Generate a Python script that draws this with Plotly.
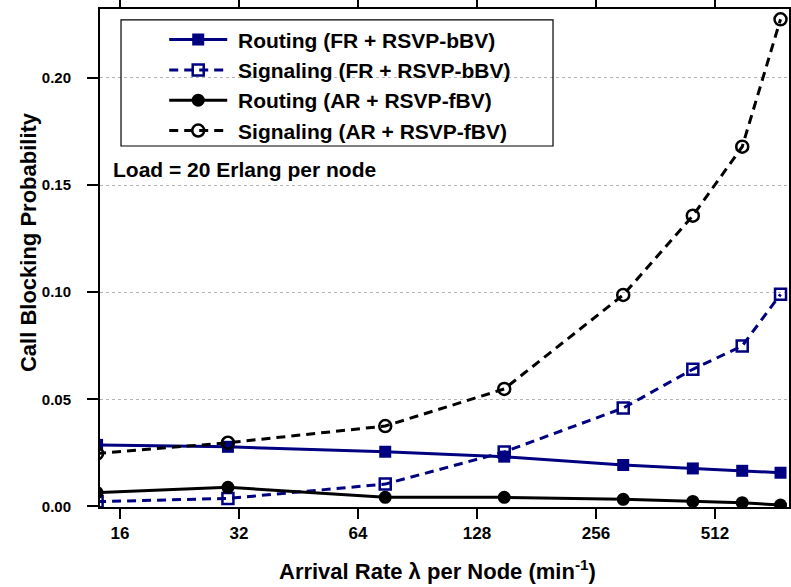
import plotly.graph_objects as go

# Data
arrival_rate = [14, 30, 75, 150, 300, 450, 600, 750]
routing_fr = [0.0287, 0.0278, 0.0255, 0.0232, 0.0193, 0.0177, 0.0166, 0.0157]
signaling_fr = [0.0022, 0.0037, 0.0104, 0.0254, 0.0459, 0.0640, 0.0749, 0.0990]
routing_ar = [0.0064, 0.0089, 0.0042, 0.0042, 0.0033, 0.0023, 0.0017, 0.0006]
signaling_ar = [0.0247, 0.0297, 0.0375, 0.0548, 0.0987, 0.1357, 0.1679, 0.2274]
x_ticks = [16, 32, 64, 128, 256, 512]
y_ticks = [0.00, 0.05, 0.10, 0.15, 0.20]

NAVY = "#000080"
BLACK = "#000000"
FONT = "Arial, 'Liberation Sans', sans-serif"

fig = go.Figure()

fig.add_trace(go.Scatter(
    x=arrival_rate, y=routing_fr, name="&nbsp;Routing (FR + RSVP-bBV)",
    mode="lines+markers", legendgroup="a",
    line=dict(color=NAVY, width=3),
    marker=dict(symbol="square", size=12, color=NAVY, line=dict(width=0)),
))
fig.add_trace(go.Scatter(
    x=arrival_rate, y=signaling_fr, name="&nbsp;Signaling (FR + RSVP-bBV)",
    mode="lines+markers", legendgroup="b",
    line=dict(color=NAVY, width=3, dash="9px,6px"),
    marker=dict(symbol="square-open", size=11, color=NAVY, line=dict(width=2.5, color=NAVY)),
))
fig.add_trace(go.Scatter(
    x=arrival_rate, y=routing_ar, name="&nbsp;Routing (AR + RSVP-fBV)",
    mode="lines+markers", legendgroup="c",
    line=dict(color=BLACK, width=3),
    marker=dict(symbol="circle", size=13, color=BLACK, line=dict(width=0)),
))
fig.add_trace(go.Scatter(
    x=arrival_rate, y=signaling_ar, name="&nbsp;Signaling (AR + RSVP-fBV)",
    mode="lines+markers", legendgroup="d",
    line=dict(color=BLACK, width=3, dash="9px,6px"),
    marker=dict(symbol="circle-open", size=12, color=BLACK, line=dict(width=2.5, color=BLACK)),
))

# legend frame
fig.add_shape(type="rect", xref="paper", yref="paper",
              x0=0.0305, x1=0.6575, y0=0.7249, y1=0.978,
              line=dict(color="black", width=1.2), fillcolor="rgba(0,0,0,0)", layer="above")

fig.add_annotation(x=0.016, y=0.678, xref="paper", yref="paper", xanchor="left", yanchor="middle",
                   text="Load = 20 Erlang per node", showarrow=False,
                   font=dict(family=FONT, size=21, color="black", weight="bold"))

fig.add_annotation(x=0.49, y=-0.127, xref="paper", yref="paper", xanchor="center", yanchor="middle",
                   text="Arrival Rate λ per Node (min<sup>-1</sup>)", showarrow=False,
                   font=dict(family=FONT, size=22, color="black", weight="bold"))
fig.add_annotation(x=-0.1045, y=0.532, xref="paper", yref="paper", xanchor="center", yanchor="middle",
                   text="Call Blocking Probability", textangle=-90, showarrow=False,
                   font=dict(family=FONT, size=22, color="black", weight="bold"))

fig.update_layout(
    width=791, height=587,
    margin=dict(l=100, r=2, t=9, b=80, autoexpand=False),
    paper_bgcolor="white", plot_bgcolor="white",
    font=dict(family=FONT, size=16, color="black", weight="bold"),
    showlegend=True,
    legend=dict(
        x=0.0932, y=0.979, xanchor="left", yanchor="top",
        bgcolor="rgba(0,0,0,0)", borderwidth=0,
        font=dict(family=FONT, size=21, color="black", weight="bold"),
        itemwidth=58, traceorder="grouped", tracegroupgap=0,
    ),
    xaxis=dict(
        type="log", range=[1.1535, 2.8965],
        tickvals=x_ticks, ticktext=[str(v) for v in x_ticks],
        ticks="outside", ticklen=10, tickwidth=1.5, tickcolor="black",
        ticklabelstandoff=0,
        showline=True, linecolor="black", linewidth=2, mirror="ticks",
        showgrid=False, zeroline=False,
        tickfont=dict(family=FONT, size=17, color="black", weight="bold"),
    ),
    yaxis=dict(
        range=[-0.0003, 0.2322],
        tickvals=y_ticks, ticktext=["%.2f" % v for v in y_ticks],
        ticks="outside", ticklen=11, tickwidth=1.5, tickcolor="black",
        ticklabelstandoff=13,
        showline=True, linecolor="black", linewidth=2, mirror="ticks",
        showgrid=True, gridcolor="#b4b4b4", gridwidth=1, griddash="dot",
        zeroline=False,
        tickfont=dict(family=FONT, size=15, color="black", weight="bold"),
    ),
)

fig.write_html("out.html", config={"displayModeBar": False},
               post_script="document.body.style.margin='0px';document.body.style.overflow='hidden';")
